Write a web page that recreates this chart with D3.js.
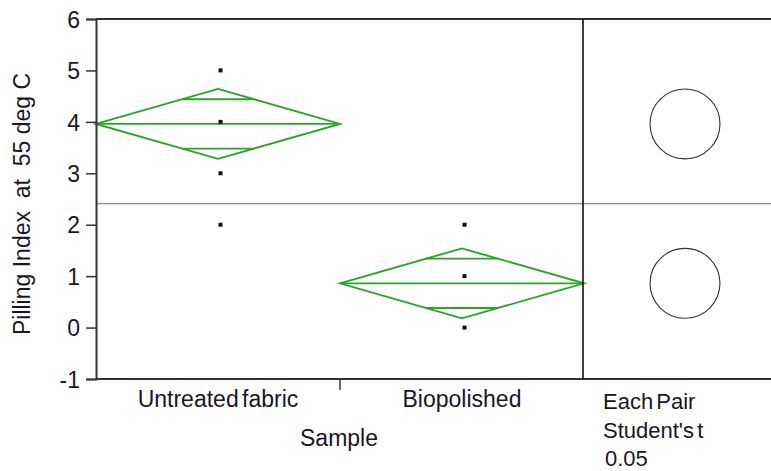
<!DOCTYPE html>
<html>
<head>
<meta charset="utf-8">
<script src="https://cdn.jsdelivr.net/npm/d3@7"></script>
<style>
  body { margin: 0; background: #fff; }
  svg text { font-family: "Liberation Sans", Arial, sans-serif; fill: #1a1626; }
</style>
</head>
<body>
<svg id="chart"></svg>
<script>
// data
var groups = ["Untreated fabric", "Biopolished"]
var means = [3.96, 0.86]
var ciHalf = [0.68, 0.68]          // 95% CI half width of each mean
var points = [[5, 4, 3, 2], [2, 1, 0]]
var grandMean = 2.41
var yTicks = [-1, 0, 1, 2, 3, 4, 5, 6]
var compText = ["Each Pair", "Student's t", "0.05"]

var width = 771, height = 471
var svg = d3.select("#chart").attr("width", width).attr("height", height)

// (window.top is read-only, so plotTop)
var left = 96, plotTop = 19, bottom = 379, plotRight = 584, right = 771

var x = d3.scaleBand().domain(groups).range([left, plotRight])
var y = d3.scaleLinear().domain([-1, 6]).range([bottom, plotTop])
var green = "#28a428"

// grand mean line across both panels
svg.append("line")
  .attr("x1", left).attr("x2", right)
  .attr("y1", y(grandMean)).attr("y2", y(grandMean))
  .attr("stroke", "#8a8a8a").attr("stroke-width", 1.4)

// means diamonds
groups.forEach(function(g, i) {
  var x0 = x(g), x1 = x(g) + x.bandwidth(), xc = x(g) + x.bandwidth() / 2
  var m = means[i], c = ciHalf[i]
  var gg = svg.append("g").attr("fill", "none").attr("stroke", green).attr("stroke-width", 1.9)
  gg.append("path")
    .attr("d", "M" + x0 + "," + y(m) + "L" + xc + "," + y(m + c) + "L" + x1 + "," + y(m) +
      "L" + xc + "," + y(m - c) + "Z")
  gg.append("line").attr("x1", x0).attr("x2", x1).attr("y1", y(m)).attr("y2", y(m))
  // overlap marks at mean +/- ci/sqrt(2)
  var d = c / Math.SQRT2
  var hw = (x.bandwidth() / 2) * (1 - d / c)
  ;[m + d, m - d].forEach(function(v) {
    gg.append("line").attr("x1", xc - hw).attr("x2", xc + hw).attr("y1", y(v)).attr("y2", y(v))
  })
  // data points
  svg.append("g").selectAll("rect").data(points[i]).enter().append("rect")
    .attr("x", xc + 0.5).attr("y", function(v) { return y(v) - 2 })
    .attr("width", 4).attr("height", 4).attr("fill", "#111")
})

// comparison circles
var cx = 685
means.forEach(function(m, i) {
  svg.append("circle")
    .attr("cx", cx).attr("cy", y(m))
    .attr("r", y(0) - y(ciHalf[i]))
    .attr("fill", "none").attr("stroke", "#333").attr("stroke-width", 1.1)
})

// frame
var frame = svg.append("g").attr("stroke", "#333").attr("stroke-width", 2)
frame.append("line").attr("x1", left).attr("x2", right).attr("y1", plotTop).attr("y2", plotTop)
frame.append("line").attr("x1", left).attr("x2", right).attr("y1", bottom).attr("y2", bottom)
frame.append("line").attr("x1", plotRight - 1).attr("x2", plotRight - 1).attr("y1", plotTop).attr("y2", bottom)
  .attr("stroke", "#111").attr("stroke-width", 1.6)

// y axis
var yAxis = svg.append("g").attr("transform", "translate(" + left + ",0)")
  .call(d3.axisLeft(y).tickValues(yTicks).tickSize(10).tickPadding(6).tickFormat(function(d) { return String(d) }))
yAxis.select(".domain").attr("stroke", "#333").attr("stroke-width", 2)
yAxis.selectAll(".tick line").attr("stroke", "#333").attr("stroke-width", 1.5)
yAxis.selectAll(".tick text").attr("font-size", 23).attr("fill", "#1a1626").attr("dy", "0.36em")
  .style("font-family", '"Liberation Sans", Arial, sans-serif')

// x axis: separator tick between groups and labels
svg.append("line")
  .attr("x1", x(groups[1])).attr("x2", x(groups[1]))
  .attr("y1", bottom).attr("y2", bottom + 11)
  .attr("stroke", "#333").attr("stroke-width", 1.5)
svg.append("g").selectAll("text").data(groups).enter().append("text")
  .attr("x", function(g) { return x(g) + x.bandwidth() / 2 })
  .attr("y", 407)
  .attr("text-anchor", "middle").attr("font-size", 23).attr("word-spacing", -3)
  .text(function(g) { return g })

svg.append("text")
  .attr("x", (left + plotRight) / 2 - 1).attr("y", 446)
  .attr("text-anchor", "middle").attr("font-size", 23)
  .text("Sample")

svg.append("text")
  .attr("transform", "translate(30," + ((plotTop + bottom) / 2 + 5) + ") rotate(-90)")
  .attr("text-anchor", "middle").attr("font-size", 23)
  .attr("xml:space", "preserve")
  .text("Pilling Index  at  55 deg C")

// comparison panel caption
svg.append("g").selectAll("text").data(compText).enter().append("text")
  .attr("x", function(t, i) { return i == 2 ? 605 : 603 })
  .attr("y", function(t, i) { return 409 + i * 28.5 })
  .attr("font-size", 22).attr("word-spacing", -3)
  .text(function(t) { return t })
</script>
</body>
</html>
